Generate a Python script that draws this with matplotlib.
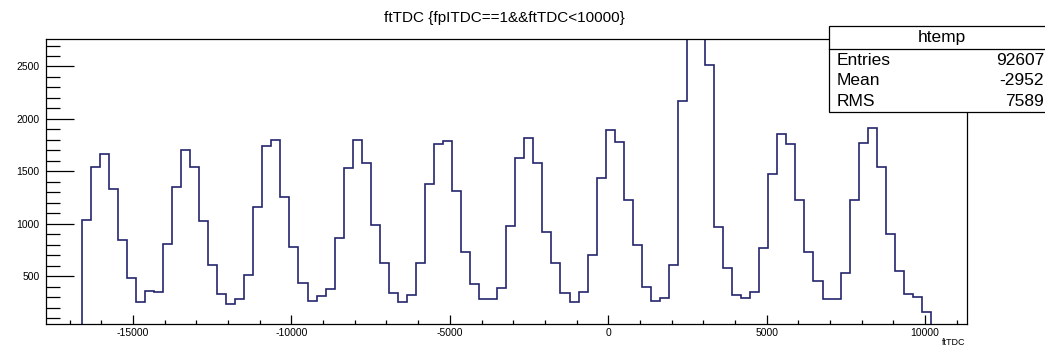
import numpy as np
import matplotlib
matplotlib.use("Agg")
import matplotlib.pyplot as plt
from matplotlib.patches import Rectangle
from matplotlib.ticker import MultipleLocator

plt.rcParams['font.family'] = ['Liberation Sans', 'DejaVu Sans']
plt.rcParams['axes.unicode_minus'] = False

# histogram of ftTDC, 94 filled bins
bin_start = -16623
bin_width = 285.2
counts = [
    1040, 1541, 1668, 1335, 840, 484, 249, 357, 345, 802,
    1354, 1706, 1541, 1024, 608, 332, 233, 281, 513, 1160,
    1741, 1795, 1255, 779, 430, 265, 310, 376, 859, 1532,
    1802, 1579, 992, 621, 335, 249, 319, 624, 1376, 1764,
    1789, 1313, 732, 421, 281, 281, 389, 979, 1627, 1817,
    1579, 922, 621, 335, 249, 348, 703, 1436, 1890, 1776,
    1227, 798, 398, 265, 293, 608, 2167, 2950, 2900, 2516,
    964, 579, 319, 293, 348, 764, 1478, 1859, 1757, 1224,
    732, 455, 281, 281, 525, 1224, 1773, 1916, 1541, 906,
    548, 325, 303, 154,
]
x_range = (-17759, 11313)
y_range = (43, 2762)

title = "ftTDC {fpITDC==1&&ftTDC<10000}"
stat_names = ["Entries", "Mean", "RMS"]
stat_values = ["92607", "-2952", "7589"]

edges = bin_start + bin_width * np.arange(len(counts) + 1)

fig = plt.figure(figsize=(10.45, 3.52), dpi=100)
ax = fig.add_axes([0.0437, 0.0795, 0.8813, 0.8097])

ax.stairs(counts, edges, baseline=0, color='#25256e', linewidth=1.2)

ax.set_xlim(*x_range)
ax.set_ylim(*y_range)

ax.xaxis.set_major_locator(MultipleLocator(5000))
ax.xaxis.set_minor_locator(MultipleLocator(1000))
ax.yaxis.set_major_locator(MultipleLocator(500))
ax.yaxis.set_minor_locator(MultipleLocator(100))

ax.tick_params(axis='y', which='major', direction='in', length=20, width=0.9,
               labelsize=7.5, pad=4.5)
ax.tick_params(axis='y', which='minor', direction='in', length=10, width=0.9)
ax.tick_params(axis='x', which='major', direction='in', length=6.2, width=0.9,
               labelsize=7.5, pad=3)
ax.tick_params(axis='x', which='minor', direction='in', length=3.1, width=0.9)
for s in ax.spines.values():
    s.set_linewidth(0.9)

fig.text(0.483, 0.949, title, ha='center', va='center', fontsize=11)
fig.text(0.924, 0.026, "ftTDC", ha='right', va='center', fontsize=6.5)

# stats box
fig.patches.append(Rectangle((0.7936, 0.682), 0.23, 0.245, transform=fig.transFigure,
                             facecolor='white', edgecolor='black', linewidth=0.9,
                             zorder=5))
fig.add_artist(plt.Line2D([0.7936, 1.0], [0.860, 0.860], transform=fig.transFigure,
                          color='black', linewidth=0.9, zorder=6))
fig.text(0.901, 0.893, "htemp", ha='center', va='center', fontsize=12.5, zorder=7)
for i, (n, v) in enumerate(zip(stat_names, stat_values)):
    yy = 0.8295 - i * 0.059
    fig.text(0.8006, yy, n, ha='left', va='center', fontsize=12.5, zorder=7)
    fig.text(0.999, yy, v, ha='right', va='center', fontsize=12.5, zorder=7)

fig.savefig("out.png", dpi=100)
